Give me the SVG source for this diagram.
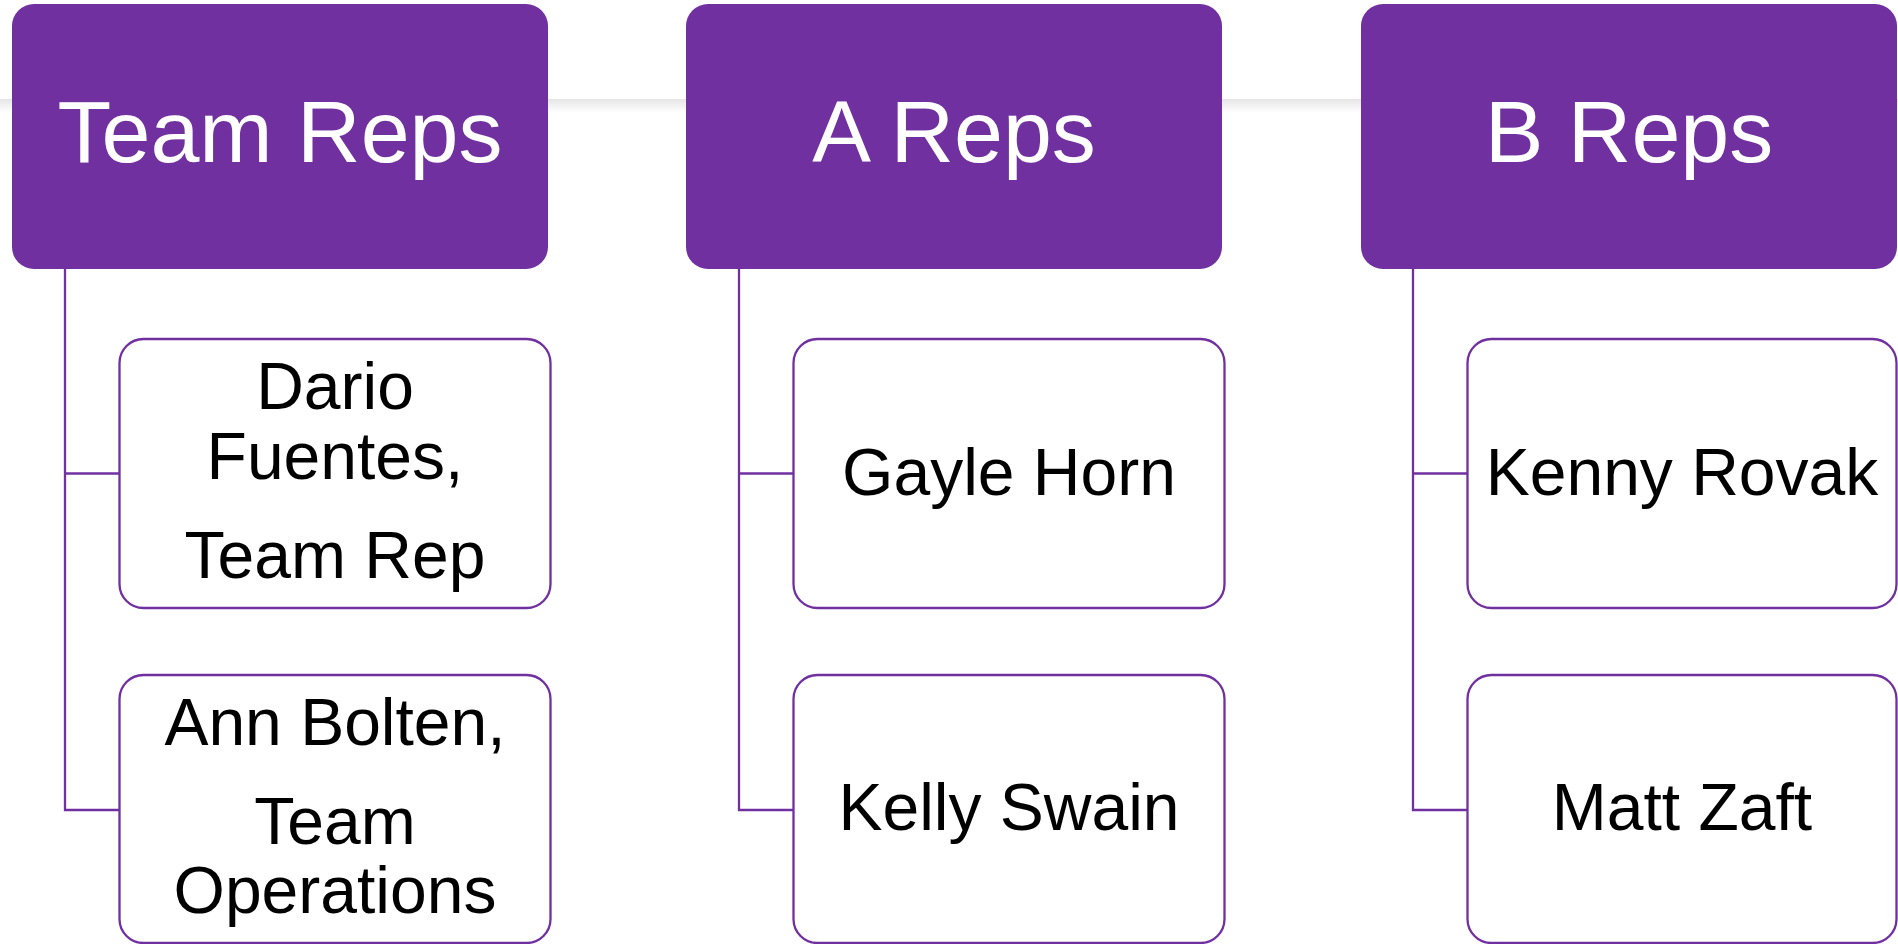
<svg xmlns="http://www.w3.org/2000/svg" width="1898" height="944" viewBox="0 0 1898 944">
  <defs>
    <linearGradient id="band" x1="0" y1="0" x2="0" y2="1">
      <stop offset="0" stop-color="#e6e6e6"/>
      <stop offset="1" stop-color="#ffffff"/>
    </linearGradient>
  </defs>
  <style>
    .hdr { fill: #7030A0; }
    .hdr-t { font-family: "Liberation Sans", Arial, sans-serif; font-size: 88px; fill: #ffffff; text-anchor: middle; }
    .box { fill: #ffffff; stroke: #7030A0; stroke-width: 2.3; }
    .box-t { font-family: "Liberation Sans", Arial, sans-serif; font-size: 66px; fill: #000000; text-anchor: middle; }
    .conn { fill: none; stroke: #7030A0; stroke-width: 2.3; }
  </style>
  <rect x="0" y="0" width="1898" height="944" fill="#ffffff"/>
  <rect x="0" y="99" width="1898" height="14" fill="url(#band)"/>

  <g id="connectors">
    <path class="conn" d="M65,269 V810 H119.5 M65,473.5 H119.5"/>
    <path class="conn" d="M739,269 V810 H793.5 M739,473.5 H793.5"/>
    <path class="conn" d="M1413,269 V810 H1467.5 M1413,473.5 H1467.5"/>
  </g>

  <g id="team-reps">
    <rect class="hdr" x="12" y="4" width="536" height="265" rx="22"/>
    <text class="hdr-t" x="280" y="162">Team Reps</text>
  </g>
  <g id="a-reps">
    <rect class="hdr" x="686" y="4" width="536" height="265" rx="22"/>
    <text class="hdr-t" x="954" y="162">A Reps</text>
  </g>
  <g id="b-reps">
    <rect class="hdr" x="1361" y="4" width="536" height="265" rx="22"/>
    <text class="hdr-t" x="1629" y="162">B Reps</text>
  </g>

  <g id="dario-fuentes">
    <rect class="box" x="119.5" y="339" width="431" height="269" rx="24"/>
    <text class="box-t" x="335" y="409">Dario</text>
    <text class="box-t" x="335" y="479">Fuentes,</text>
    <text class="box-t" x="335" y="578">Team Rep</text>
  </g>
  <g id="ann-bolten">
    <rect class="box" x="119.5" y="675" width="431" height="268" rx="24"/>
    <text class="box-t" x="335" y="745">Ann Bolten,</text>
    <text class="box-t" x="335" y="844">Team</text>
    <text class="box-t" x="335" y="913">Operations</text>
  </g>
  <g id="gayle-horn">
    <rect class="box" x="793.5" y="339" width="431" height="269" rx="24"/>
    <text class="box-t" x="1009" y="495">Gayle Horn</text>
  </g>
  <g id="kelly-swain">
    <rect class="box" x="793.5" y="675" width="431" height="268" rx="24"/>
    <text class="box-t" x="1009" y="830">Kelly Swain</text>
  </g>
  <g id="kenny-rovak">
    <rect class="box" x="1467.5" y="339" width="429" height="269" rx="24"/>
    <text class="box-t" x="1682" y="495">Kenny Rovak</text>
  </g>
  <g id="matt-zaft">
    <rect class="box" x="1467.5" y="675" width="429" height="268" rx="24"/>
    <text class="box-t" x="1682" y="830">Matt Zaft</text>
  </g>
</svg>
